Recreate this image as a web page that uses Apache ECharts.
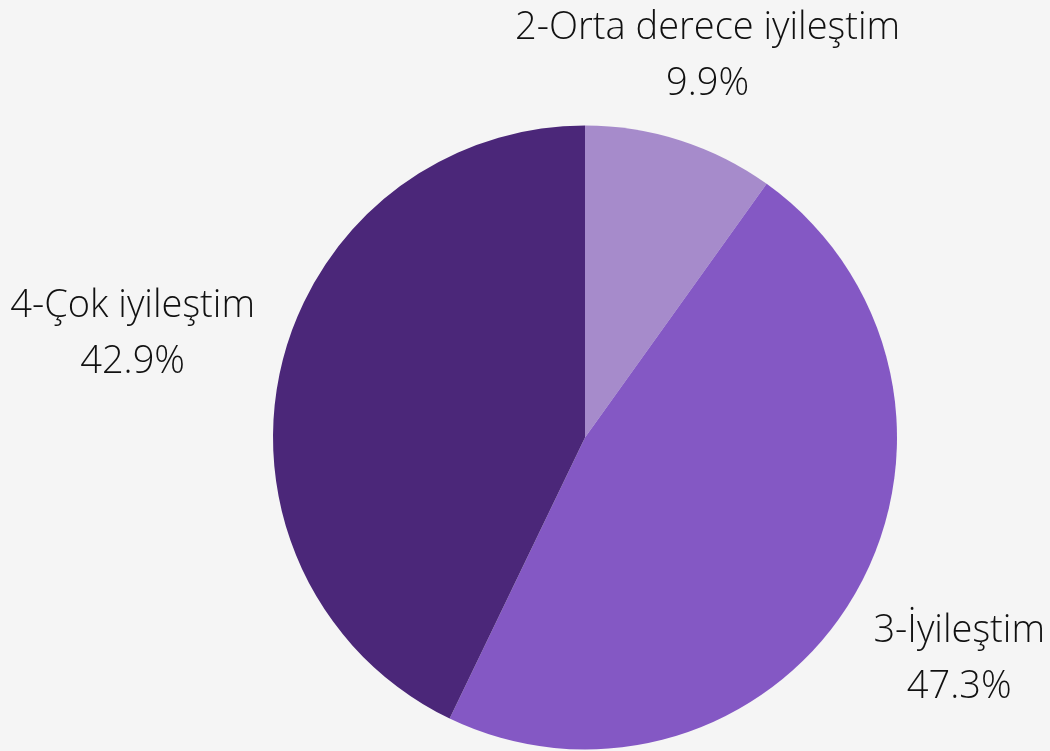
<!DOCTYPE html>
<html>
<head>
<meta charset="utf-8">
<script src="https://cdn.jsdelivr.net/npm/echarts@6/dist/echarts.min.js"></script>
<style>
  html, body { margin: 0; padding: 0; background: #f5f5f5; }
  #myChart { width: 1050px; height: 751px; }
</style>
</head>
<body>
<div id="myChart"></div>
<script>
const categories = ['2-Orta derece iyileştim', '3-İyileştim', '4-Çok iyileştim']
const values = [9.9, 47.3, 42.9]
const colors = ['#a68bcb', '#8458c4', '#4b2779']

// label distance from center (px), along each slice's mid angle
const labelDist = [401, 435, 464]
const cx = 585
const cy = 437.5
const radius = 312

let total = values.reduce((a, b) => a + b, 0)
let midAngles = []
let acc = 0
values.forEach(v => {
  midAngles.push((acc + v / 2) / total * 2 * Math.PI)
  acc += v
})

let myChart = echarts.init(document.getElementById('myChart'))
let option = {
  backgroundColor: '#f5f5f5',
  animation: false,
  color: colors,
  series: [
    {
      type: 'pie',
      center: [cx, cy],
      radius: radius,
      startAngle: 90,
      clockwise: true,
      data: categories.map((c, i) => ({ name: c, value: values[i] })),
      itemStyle: { borderWidth: 0 },
      label: {
        show: true,
        position: 'outside',
        overflow: 'none',
        formatter: p => p.name + '\n' + p.value.toFixed(1) + '%',
        fontFamily: 'Open Sans',
        fontWeight: 300,
        fontSize: 38,
        lineHeight: 56,
        color: '#111'
      },
      labelLine: { show: false },
      labelLayout: function (params) {
        let a = midAngles[params.dataIndex]
        let d = labelDist[params.dataIndex]
        return {
          x: cx + d * Math.sin(a),
          y: cy - d * Math.cos(a),
          align: 'center',
          verticalAlign: 'middle'
        }
      }
    }
  ]
}
myChart.setOption(option, true)
</script>
</body>
</html>
